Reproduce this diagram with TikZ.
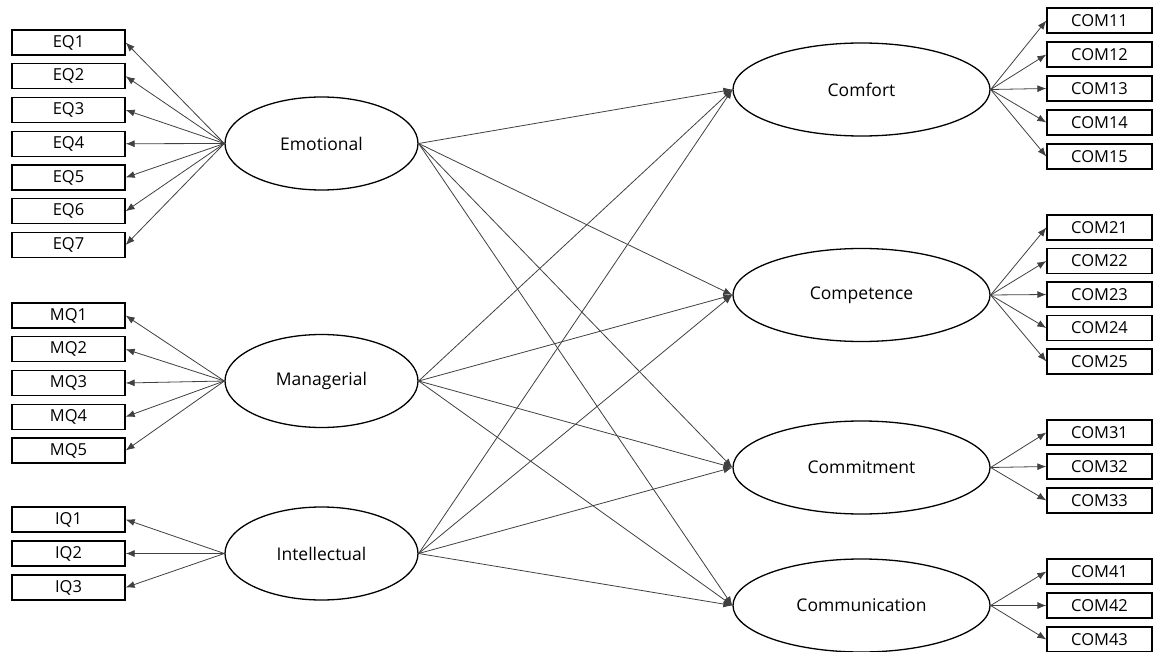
\documentclass[tikz,border=0pt]{standalone}
\usepackage{fontspec}
\setmainfont{Open Sans}
\usetikzlibrary{arrows.meta,shapes.geometric}
\begin{document}
\begin{tikzpicture}[x=1pt,y=-1pt,
  obs/.style={draw,line width=1.3pt,rectangle,minimum height=25pt,inner sep=0pt,font=\fontsize{16.5}{16.5}\selectfont},
  lobs/.style={obs,minimum width=113pt},
  robs/.style={obs,minimum width=105pt},
  lat/.style={draw,line width=1.3pt,ellipse,inner sep=0pt,minimum height=93pt,font=\fontsize{17.5}{17.5}\selectfont},
  llat/.style={lat,minimum width=193pt},
  rlat/.style={lat,minimum width=257pt},
  arr/.style={draw=black!75,line width=0.8pt,-{Latex[length=9pt,width=7pt]}}
]
\useasboundingbox (0,0) rectangle (1153,652);
% left latents
\node[llat] (emo) at (321.5,143.5) {Emotional};
\node[llat] (man) at (321.5,381) {Managerial};
\node[llat] (int) at (321.5,553.5) {Intellectual};
% right latents
\node[rlat] (comf) at (861.5,89.5) {Comfort};
\node[rlat] (comp) at (861.5,295) {Competence};
\node[rlat] (comm) at (861.5,467.5) {Commitment};
\node[rlat] (comu) at (861.5,605.5) {Communication};
% left indicators
\foreach \i in {1,...,7}{
  \node[lobs] (eq\i) at (68.5,{42.5+33.75*(\i-1)}) {EQ\i};
  \draw[arr] (emo.west) -- (eq\i.east);
}
\foreach \i in {1,...,5}{
  \node[lobs] (mq\i) at (68.5,{315.5+33.75*(\i-1)}) {MQ\i};
  \draw[arr] (man.west) -- (mq\i.east);
}
\foreach \i in {1,...,3}{
  \node[lobs] (iq\i) at (68.5,{519.5+34*(\i-1)}) {IQ\i};
  \draw[arr] (int.west) -- (iq\i.east);
}
% right indicators
\foreach \i in {1,...,5}{
  \node[robs] (c1\i) at (1099.5,{20.5+34*(\i-1)}) {COM1\i};
  \draw[arr] (comf.east) -- (c1\i.west);
}
\foreach \i in {1,...,5}{
  \node[robs] (c2\i) at (1099.5,{227.5+33.5*(\i-1)}) {COM2\i};
  \draw[arr] (comp.east) -- (c2\i.west);
}
\foreach \i in {1,...,3}{
  \node[robs] (c3\i) at (1099.5,{432.5+34*(\i-1)}) {COM3\i};
  \draw[arr] (comm.east) -- (c3\i.west);
}
\foreach \i in {1,...,3}{
  \node[robs] (c4\i) at (1099.5,{571.5+34*(\i-1)}) {COM4\i};
  \draw[arr] (comu.east) -- (c4\i.west);
}
% structural paths
\foreach \a in {emo,man,int}{
  \foreach \b in {comf,comp,comm,comu}{
    \draw[arr] (\a.east) -- (\b.west);
  }
}
\end{tikzpicture}
\end{document}
